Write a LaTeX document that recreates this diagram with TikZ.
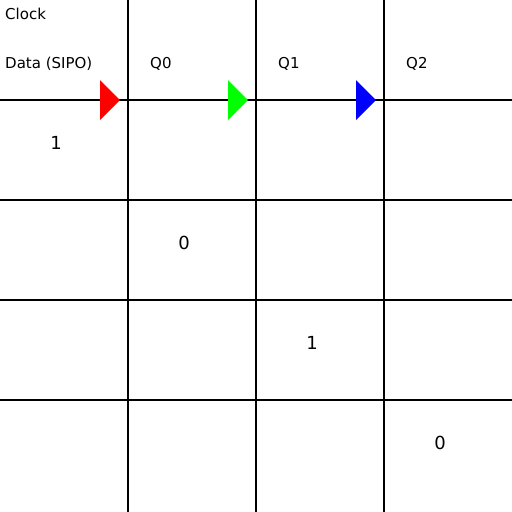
\documentclass[tikz,border=0pt]{standalone}
\usepackage{fontspec}
\setmainfont{DejaVu Sans}
\begin{document}
\begin{tikzpicture}[x=1pt,y=-1pt,
    label/.style={anchor=west,inner sep=0pt,font=\fontsize{15}{17}\selectfont},
    bit/.style={inner sep=0pt,font=\fontsize{18}{20}\selectfont}]
    \useasboundingbox (0,0) rectangle (512,512);
    % grid lines
    \foreach \x in {128,256,384}
        \draw [line width=1.6pt] (\x,0) -- (\x,512);
    \foreach \y in {100,200,300,400}
        \draw [line width=1.6pt] (0,\y) -- (512,\y);
    % clock edges
    \foreach \x/\c in {100/red,228/green,356/blue}
        \fill [\c] (\x,80) -- (\x+20,100) -- (\x,120) -- cycle;
    \node[label] (clk) at (5,14) {Clock};
    \node[label] (data) at (5,64) {Data (SIPO)};
    \node[label] (q0) at (150,64) {Q0};
    \node[label] (q1) at (278,64) {Q1};
    \node[label] (q2) at (406,64) {Q2};
    \node[bit] (b0) at (56,143) {1};
    \node[bit] (b1) at (184,243) {0};
    \node[bit] (b2) at (312,343) {1};
    \node[bit] (b3) at (440,443) {0};
\end{tikzpicture}
\end{document}
